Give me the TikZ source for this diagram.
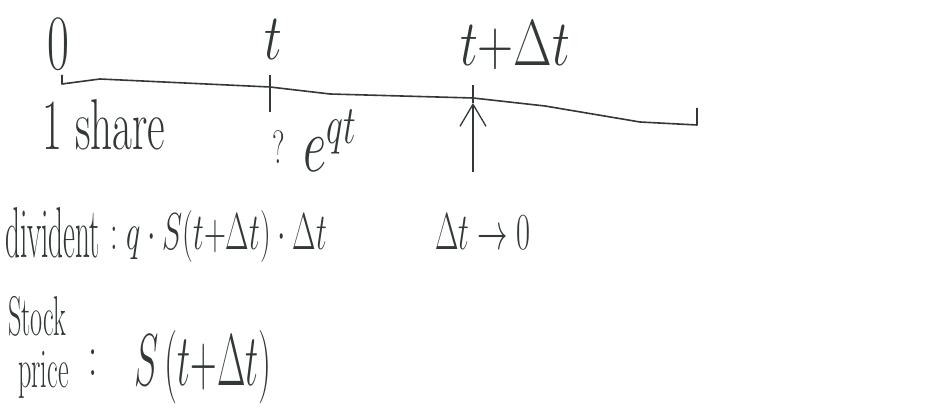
\RequirePackage{fix-cm}
\documentclass[tikz,border=0pt]{standalone}
\usepackage{graphicx}
\usetikzlibrary{arrows.meta, positioning, calc}
\definecolor{ink}{RGB}{50,55,55}

\begin{document}
\begin{tikzpicture}[
    x=1pt, y=-1pt,
    hand/.style={inner sep=0pt, text=ink, font=\fontsize{40}{44}\selectfont},
    small/.style={hand, font=\fontsize{36}{40}\selectfont},
    big/.style={hand, font=\fontsize{46}{50}\selectfont},
    axis/.style={draw=ink, line width=1.6pt, line join=round},
    arrow/.style={-{Straight Barb[length=22pt, width=26pt]}, draw=ink, line width=1.3pt}
]
\useasboundingbox (0,0) rectangle (948,411);

% time line
\coordinate (start) at (62,75);
\coordinate (tickA) at (270,87);
\coordinate (tickB) at (473,98);
\coordinate (stop) at (697,125);
\draw[axis] (start) -- (62,84) -- (100,79) -- (tickA) -- (330,94) -- (tickB) -- (545,106) -- (640,122) -- (stop) -- (697,108);
\draw[axis] ($(tickA)+(0,-12)$) -- ($(tickA)+(0,25)$);
\draw[axis] ($(tickB)+(0,-13)$) -- ($(tickB)+(0,5)$);

% labels above
\node[hand, font=\fontsize{56}{60}\selectfont] (zero) at (58,44) {\scalebox{0.85}[1.4]{0}};
\node[hand, font=\fontsize{50}{54}\selectfont] (lblt) at (273,40) {\scalebox{1}[1.3]{$t$}};
\node[hand, font=\fontsize{50}{54}\selectfont] (lbltdt) at (515,45) {\scalebox{1}[1.3]{$t{+}\Delta t$}};

% below the line
\node[hand, font=\fontsize{48}{52}\selectfont, anchor=base west] (share) at (42,150) {\scalebox{0.9}[1.5]{1 share}};
\node[small] (qmark) at (279,147) {\scalebox{0.8}[1.3]{?}};
\node[hand, font=\fontsize{60}{64}\selectfont, anchor=base west] (growth) at (303,172) {\scalebox{0.85}[1.3]{$e^{qt}$}};
\coordinate (foot) at (473,172);
\draw[arrow] (foot) -- ($(tickB)+(0,5)$);

% dividend
\node[hand, anchor=base west] (divword) at (5,258) {\scalebox{0.73}[1.8]{divident}};
\node[hand, anchor=base west] (divterm) at (110,250) {\scalebox{0.76}[1.3]{$:q\cdot S(t{+}\Delta t)\cdot\Delta t$}};
\node[hand, anchor=base west] (limit) at (435,250) {\scalebox{0.76}[1.3]{$\Delta t\rightarrow 0$}};

% stock price
\node[hand, font=\fontsize{35}{38}\selectfont, anchor=base west] (stockword) at (8,336) {\scalebox{0.75}[1.6]{Stock}};
\node[hand, font=\fontsize{35}{38}\selectfont, anchor=base west] (priceword) at (18,388) {\scalebox{0.75}[1.6]{price}};
\node[big] (colon) at (93,363) {\scalebox{0.8}[1.3]{:}};
\node[big, anchor=base west] (price) at (134,386) {\scalebox{0.8}[1.6]{$S\,(t{+}\Delta t)$}};
\end{tikzpicture}
\end{document}
